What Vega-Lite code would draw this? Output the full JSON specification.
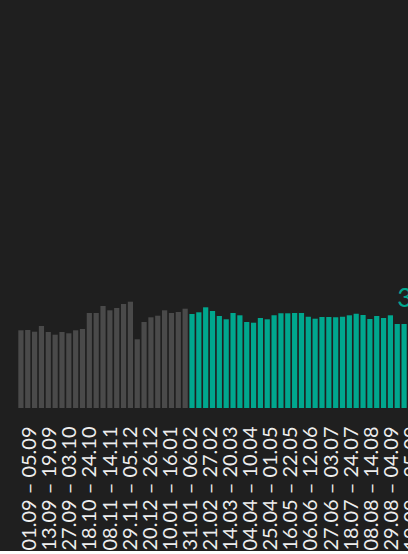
{
  "$schema": "https://vega.github.io/schema/vega-lite/v6.json",
  "background": "#1f1f1f",
  "padding": {"left": 17.5, "top": 0, "right": 0, "bottom": 0},
  "width": 417.4,
  "height": 408,
  "config": {"view": {"stroke": null}},
  "datasets": {
    "bars": [
      {"i": 1, "v": 77.7, "period": "prev"},
      {"i": 2, "v": 78, "period": "prev"},
      {"i": 3, "v": 76.3, "period": "prev"},
      {"i": 4, "v": 82, "period": "prev"},
      {"i": 5, "v": 76, "period": "prev"},
      {"i": 6, "v": 73.3, "period": "prev"},
      {"i": 7, "v": 76, "period": "prev"},
      {"i": 8, "v": 74.7, "period": "prev"},
      {"i": 9, "v": 77.7, "period": "prev"},
      {"i": 10, "v": 79, "period": "prev"},
      {"i": 11, "v": 95, "period": "prev"},
      {"i": 12, "v": 95, "period": "prev"},
      {"i": 13, "v": 102, "period": "prev"},
      {"i": 14, "v": 97.7, "period": "prev"},
      {"i": 15, "v": 100, "period": "prev"},
      {"i": 16, "v": 104, "period": "prev"},
      {"i": 17, "v": 106.3, "period": "prev"},
      {"i": 18, "v": 68.7, "period": "prev"},
      {"i": 19, "v": 86, "period": "prev"},
      {"i": 20, "v": 90.7, "period": "prev"},
      {"i": 21, "v": 92.3, "period": "prev"},
      {"i": 22, "v": 97.7, "period": "prev"},
      {"i": 23, "v": 95, "period": "prev"},
      {"i": 24, "v": 96, "period": "prev"},
      {"i": 25, "v": 99.3, "period": "prev"},
      {"i": 26, "v": 94, "period": "curr"},
      {"i": 27, "v": 95.7, "period": "curr"},
      {"i": 28, "v": 100.7, "period": "curr"},
      {"i": 29, "v": 97, "period": "curr"},
      {"i": 30, "v": 92, "period": "curr"},
      {"i": 31, "v": 88.7, "period": "curr"},
      {"i": 32, "v": 95, "period": "curr"},
      {"i": 33, "v": 92.7, "period": "curr"},
      {"i": 34, "v": 86, "period": "curr"},
      {"i": 35, "v": 85.3, "period": "curr"},
      {"i": 36, "v": 90, "period": "curr"},
      {"i": 37, "v": 88.7, "period": "curr"},
      {"i": 38, "v": 92.7, "period": "curr"},
      {"i": 39, "v": 94.7, "period": "curr"},
      {"i": 40, "v": 94.7, "period": "curr"},
      {"i": 41, "v": 95, "period": "curr"},
      {"i": 42, "v": 95, "period": "curr"},
      {"i": 43, "v": 91.3, "period": "curr"},
      {"i": 44, "v": 89.3, "period": "curr"},
      {"i": 45, "v": 91, "period": "curr"},
      {"i": 46, "v": 91, "period": "curr"},
      {"i": 47, "v": 90.7, "period": "curr"},
      {"i": 48, "v": 91.3, "period": "curr"},
      {"i": 49, "v": 92.7, "period": "curr"},
      {"i": 50, "v": 94.3, "period": "curr"},
      {"i": 51, "v": 93, "period": "curr"},
      {"i": 52, "v": 89, "period": "curr"},
      {"i": 53, "v": 92, "period": "curr"},
      {"i": 54, "v": 90, "period": "curr"},
      {"i": 55, "v": 92.7, "period": "curr"},
      {"i": 56, "v": 84, "period": "curr"},
      {"i": 57, "v": 84, "period": "curr"}
    ],
    "note": [
      {"i": 56, "v": 101, "t": "3"}
    ],
    "labels": [
      {"label": "01.09 – 05.09"},
      {"label": "13.09 – 19.09"},
      {"label": "27.09 – 03.10"},
      {"label": "18.10 – 24.10"},
      {"label": "08.11 – 14.11"},
      {"label": "29.11 – 05.12"},
      {"label": "20.12 – 26.12"},
      {"label": "10.01 – 16.01"},
      {"label": "31.01 – 06.02"},
      {"label": "21.02 – 27.02"},
      {"label": "14.03 – 20.03"},
      {"label": "04.04 – 10.04"},
      {"label": "25.04 – 01.05"},
      {"label": "16.05 – 22.05"},
      {"label": "06.06 – 12.06"},
      {"label": "27.06 – 03.07"},
      {"label": "18.07 – 24.07"},
      {"label": "08.08 – 14.08"},
      {"label": "29.08 – 04.09"},
      {"label": "19.09 – 25.09"}
    ]
  },
  "layer": [
    {
      "layer": [
        {
          "data": {"name": "bars"},
          "mark": {"type": "bar"},
          "encoding": {
            "x": {
              "field": "i",
              "type": "ordinal",
              "scale": {
                "type": "band",
                "domain": [1, 2, 3, 4, 5, 6, 7, 8, 9, 10, 11, 12, 13, 14, 15, 16, 17, 18, 19, 20, 21, 22, 23, 24, 25, 26, 27, 28, 29, 30, 31, 32, 33, 34, 35, 36, 37, 38, 39, 40, 41, 42, 43, 44, 45, 46, 47, 48, 49, 50, 51, 52, 53, 54, 55, 56, 57, 58, 59, 60, 61],
                "paddingInner": 0.24,
                "paddingOuter": 0.12
              },
              "axis": null
            },
            "y": {
              "field": "v",
              "type": "quantitative",
              "scale": {"domain": [0, 408], "nice": false},
              "axis": null
            },
            "color": {
              "field": "period",
              "type": "nominal",
              "scale": {"domain": ["prev", "curr"], "range": ["#4a4a4a", "#00a78e"]},
              "legend": null
            }
          }
        },
        {
          "data": {"name": "note"},
          "mark": {"type": "text", "align": "left", "baseline": "alphabetic", "font": "Lato", "fontSize": 26, "color": "#00a78e"},
          "encoding": {
            "x": {"field": "i", "type": "ordinal"},
            "y": {"field": "v", "type": "quantitative"},
            "text": {"field": "t"}
          }
        }
      ]
    },
    {
      "data": {"name": "labels"},
      "mark": {"type": "rule", "opacity": 0},
      "encoding": {
        "x": {
          "field": "label",
          "type": "nominal",
          "sort": null,
          "scale": {"type": "band", "paddingInner": 0.5, "paddingOuter": 0.6385, "align": 0.3},
          "axis": {
            "orient": "bottom",
            "title": null,
            "ticks": false,
            "domain": false,
            "grid": false,
            "labelAngle": 270,
            "labelAlign": "right",
            "labelBaseline": "middle",
            "labelPadding": 18,
            "labelFont": "Lato",
            "labelFontSize": 20,
            "labelColor": "#eeeeee",
            "labelOverlap": false,
            "labelLimit": 0
          }
        }
      }
    }
  ],
  "resolve": {"scale": {"x": "independent"}}
}
